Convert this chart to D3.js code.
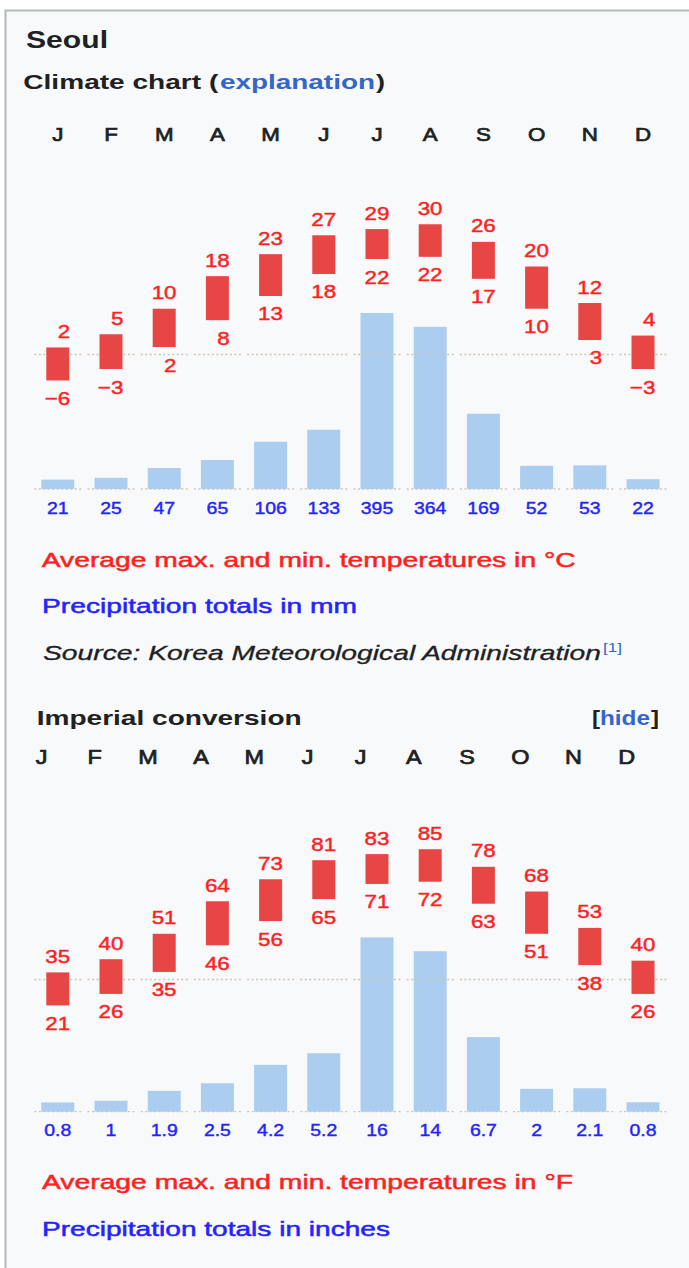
<!DOCTYPE html>
<html>
<head>
<meta charset="utf-8">
<script src="https://cdn.jsdelivr.net/npm/d3@7"></script>
<style>
  html, body { margin: 0; padding: 0; background: #fff; }
  svg { display: block; }
</style>
</head>
<body>
<svg id="chart" width="689" height="1268"></svg>
<script>
// ---------------- data ----------------
const months = ["J", "F", "M", "A", "M", "J", "J", "A", "S", "O", "N", "D"];
// metric (°C, mm)
const maxC = [1.6, 4.6, 10.4, 17.8, 22.8, 27.1, 28.5, 29.6, 25.6, 20.0, 11.7, 4.3];
const minC = [-5.9, -3.3, 1.7, 7.8, 13.3, 18.3, 21.7, 22.2, 17.2, 10.4, 3.3, -3.3];
const precipMm = [21, 25, 47, 65, 106, 133, 395, 364, 169, 52, 53, 22];
// imperial (°F, inches)
const maxF = [34.9, 40.3, 50.7, 64.0, 73.0, 80.8, 83.3, 85.3, 78.1, 68.0, 53.1, 39.7];
const minF = [21.4, 26.1, 35.1, 46.0, 55.9, 64.9, 71.1, 72.0, 63.0, 50.7, 37.9, 26.1];
const precipIn = [0.83, 0.98, 1.86, 2.54, 4.18, 5.22, 15.56, 14.33, 6.66, 2.04, 2.09, 0.84];

// ---------------- style ----------------
const FONT = "'Liberation Sans', Arial, Helvetica, sans-serif";
const SX = 1.2;               // horizontal stretch of glyphs in the reference
const RED_TXT = "#ff1f1f", BLUE_TXT = "#2323ff", DARK = "#202122", LINK = "#3366cc";
const RED_BAR = "#e84545", BLUE_BAR = "#abcdef", DOT = "#cfc5b5";

const svg = d3.select("#chart");

// frame
svg.append("rect").attr("x", 0).attr("y", 0).attr("width", 689).attr("height", 1268).attr("fill", "#fff");
svg.append("rect").attr("x", 5.5).attr("y", 10.5).attr("width", 720).attr("height", 1300)
  .attr("fill", "#f8f9fa").attr("stroke", "#b4b9be").attr("stroke-width", 2);

// x scale shared by both charts
const x = d3.scaleBand().domain(d3.range(12)).range([31.2, 669.6]).padding(0);
const cx = i => x(i) + x.bandwidth() / 2;

// helpers
function thicken(t, color, w) {
  return t.attr("stroke", color).attr("stroke-width", w).attr("paint-order", "stroke");
}
function stretchedText(g, px, py, str, o) {
  const t = g.append("text")
    .attr("transform", `translate(${px},${py}) scale(${o.sx || SX},1)`)
    .attr("text-anchor", o.anchor || "start")
    .attr("font-family", FONT)
    .attr("font-size", o.size)
    .attr("font-weight", o.weight || "normal")
    .attr("font-style", o.style || "normal")
    .attr("fill", o.fill || DARK)
    .text(str);
  if (o.thick) thicken(t, o.fill || DARK, o.thick);
  return t;
}
function fixedText(g, px, py, str, len, o) {
  const t = g.append("text")
    .attr("x", px).attr("y", py)
    .attr("textLength", len).attr("lengthAdjust", "spacingAndGlyphs")
    .attr("font-family", FONT)
    .attr("font-size", o.size)
    .attr("font-weight", o.weight || "normal")
    .attr("font-style", o.style || "normal")
    .attr("fill", o.fill || DARK)
    .text(str);
  if (o.thick) thicken(t, o.fill || DARK, o.thick);
  return t;
}
const fmtT = v => { const r = Math.round(v); return r < 0 ? "\u2212" + Math.abs(r) : String(r); };
const fmtMm = v => String(Math.round(v));
const fmtIn = v => v >= 10 ? String(Math.round(v)) : String(+v.toFixed(1));

// ---------------- chart drawer ----------------
function drawChart(cfg) {
  const g = svg.append("g");
  // month letters
  months.forEach((m, i) => {
    stretchedText(g, cx(i) + cfg.monthShift, cfg.monthY, m, { size: cfg.monthSize, anchor: "middle", thick: 0.7 });
  });
  // dotted reference lines, one segment per month cell
  const seg = (y) => d3.range(12).forEach(i => {
    g.append("line").attr("x1", cx(i) - 23.5).attr("x2", cx(i) + 23.5)
      .attr("y1", y).attr("y2", y)
      .attr("stroke", DOT).attr("stroke-width", 1.3).attr("stroke-dasharray", "2,2.5");
  });
  seg(cfg.yP(0));
  // precipitation bars
  g.selectAll(null).data(cfg.prec).join("rect")
    .attr("x", (d, i) => cx(i) - 16.5).attr("width", 33)
    .attr("y", d => cfg.yP(d)).attr("height", d => cfg.yP(0) - cfg.yP(d))
    .attr("fill", BLUE_BAR);
  // freezing line (dotted)
  seg(cfg.yT(cfg.freeze));
  // temperature bars
  g.selectAll(null).data(cfg.maxT).join("rect")
    .attr("x", (d, i) => cx(i) - 11.5).attr("width", 23)
    .attr("y", d => cfg.yT(d)).attr("height", (d, i) => cfg.yT(cfg.minT[i]) - cfg.yT(d))
    .attr("fill", RED_BAR);
  // temperature labels
  cfg.maxT.forEach((v, i) => stretchedText(g, cx(i) + 12.3, cfg.yT(v) - 9.5, fmtT(v),
    { size: 18.6, anchor: "end", fill: RED_TXT, thick: 0.45 }));
  cfg.minT.forEach((v, i) => stretchedText(g, cx(i) + 12.3, cfg.yT(v) + 24.5, fmtT(v),
    { size: 18.6, anchor: "end", fill: RED_TXT, thick: 0.45 }));
  // precipitation labels
  cfg.prec.forEach((v, i) => stretchedText(g, cx(i), cfg.yP(0) + 24.5, cfg.fmtP(v),
    { size: 16.2, anchor: "middle", fill: BLUE_TXT, thick: 0.4 }));
  return g;
}

// ---------------- header ----------------
const head = svg.append("g");
fixedText(head, 26, 47.5, "Seoul", 82, { size: 24, weight: "bold" });
fixedText(head, 23.3, 89, "Climate chart (", 195, { size: 20.5, weight: "bold" });
fixedText(head, 220, 89, "explanation", 155, { size: 20.5, weight: "bold", fill: LINK });
fixedText(head, 376, 89, ")", 9, { size: 20.5, weight: "bold" });

// ---------------- metric chart ----------------
const kC = 4.4;
const yC = d3.scaleLinear().domain([0, 30]).range([354.5, 354.5 - 30 * kC]);
const yMm = d3.scaleLinear().domain([0, 400]).range([489, 489 - 400 * 0.4455]);
drawChart({ maxT: maxC, minT: minC, prec: precipMm, yT: yC, yP: yMm, freeze: 0,
  fmtP: fmtMm, monthY: 141, monthSize: 18.6, monthShift: 0 });

const leg1 = svg.append("g");
fixedText(leg1, 41.7, 566.7, "Average max. and min. temperatures in \u00B0C", 534, { size: 21, fill: RED_TXT, thick: 0.5 });
fixedText(leg1, 42, 613.3, "Precipitation totals in mm", 315, { size: 21, fill: BLUE_TXT, thick: 0.5 });
fixedText(leg1, 43, 660, "Source: Korea Meteorological Administration", 558, { size: 21, style: "italic", fill: DARK, thick: 0.3 });
fixedText(leg1, 603, 652, "[1]", 19, { size: 12.5, fill: LINK });

// ---------------- imperial chart ----------------
const imp = svg.append("g");
fixedText(imp, 36.7, 725, "Imperial conversion", 265, { size: 21, weight: "bold" });
fixedText(imp, 592, 725, "[", 8, { size: 20, weight: "bold" });
fixedText(imp, 600, 725, "hide", 50, { size: 20, weight: "bold", fill: LINK });
fixedText(imp, 651, 725, "]", 8, { size: 20, weight: "bold" });

const kF = kC / 1.8;
const yF = d3.scaleLinear().domain([32, 86]).range([979.5, 979.5 - 54 * kF]);
const yIn = d3.scaleLinear().domain([0, 16]).range([1111.7, 1111.7 - 16 * 11.2]);
drawChart({ maxT: maxF, minT: minF, prec: precipIn, yT: yF, yP: yIn, freeze: 32,
  fmtP: fmtIn, monthY: 764, monthSize: 19.5, monthShift: -16.3 });

const leg2 = svg.append("g");
fixedText(leg2, 42, 1189.3, "Average max. and min. temperatures in \u00B0F", 531, { size: 21, fill: RED_TXT, thick: 0.5 });
fixedText(leg2, 42, 1236, "Precipitation totals in inches", 348, { size: 21, fill: BLUE_TXT, thick: 0.5 });
</script>
</body>
</html>
